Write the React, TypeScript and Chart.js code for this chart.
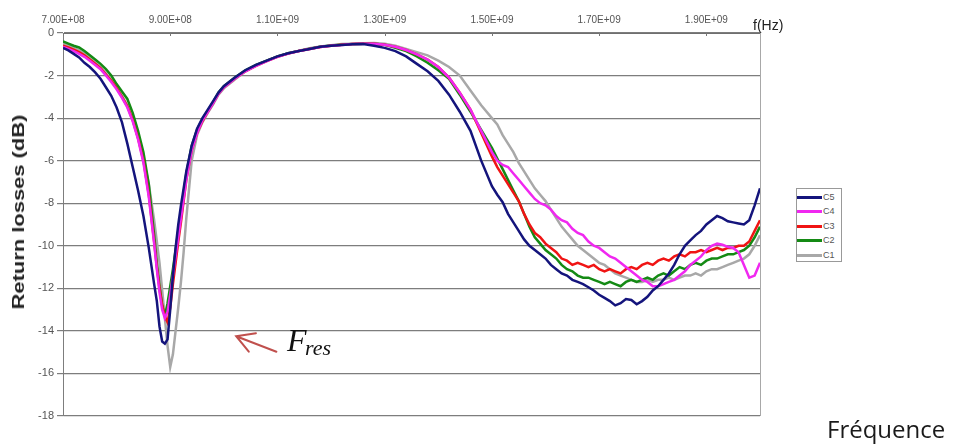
import React, { useEffect, useRef } from "react";
import { Chart, registerables } from "chart.js";

Chart.register(...registerables);

// Frequencies in MHz (shared by all series)
const FREQ_MHZ = [
  700, 710, 720, 730, 740, 750, 760, 770, 780, 790, 800, 810, 820, 830, 840, 850, 860, 870,
  875, 880, 885, 890, 895, 900, 905, 910, 915, 920, 925, 930,
  940, 950, 960, 970, 980, 990, 1000,
  1020, 1040, 1060, 1080, 1100, 1120, 1140, 1160, 1180, 1200, 1220, 1240, 1260, 1280, 1300,
  1320, 1340, 1360, 1380, 1400, 1420, 1440, 1460, 1480, 1500,
  1510, 1520, 1530, 1540, 1550, 1560, 1570, 1580, 1590, 1600,
  1610, 1620, 1630, 1640, 1650, 1660, 1670, 1680, 1690, 1700,
  1710, 1720, 1730, 1740, 1750, 1760, 1770, 1780, 1790, 1800,
  1810, 1820, 1830, 1840, 1850, 1860, 1870, 1880, 1890, 1900,
  1910, 1920, 1930, 1940, 1950, 1960, 1970, 1980, 1990, 2000,
];

const C5 = [
  -0.7, -0.82, -0.98, -1.15, -1.4, -1.6, -1.85, -2.15, -2.55, -2.95, -3.5, -4.2, -5.2, -6.3, -7.4, -8.6, -10.1, -11.8,
  -12.6, -13.8, -14.5, -14.6, -14.4, -13.0, -11.4, -10.1, -9.0, -8.1, -7.3, -6.5,
  -5.3, -4.5, -4.0, -3.6, -3.2, -2.8, -2.5,
  -2.1, -1.75, -1.5, -1.3, -1.1, -0.95, -0.85, -0.75, -0.65, -0.6, -0.56, -0.53, -0.52, -0.6, -0.7,
  -0.85, -1.1, -1.45, -1.8, -2.25, -2.9, -3.7, -4.6, -6.0, -7.2,
  -7.6, -7.95, -8.5, -8.9, -9.3, -9.7, -10.0, -10.2, -10.4, -10.6,
  -10.9, -11.1, -11.3, -11.4, -11.6, -11.7, -11.8, -11.95, -12.1, -12.3,
  -12.45, -12.6, -12.8, -12.7, -12.5, -12.55, -12.75, -12.6, -12.4, -12.1,
  -11.9, -11.6, -11.3, -10.9, -10.4, -10.0, -9.75, -9.5, -9.3, -9.0,
  -8.8, -8.6, -8.7, -8.85, -8.9, -8.95, -9.0, -8.8, -8.1, -7.3,
];

const C4 = [
  -0.65, -0.75, -0.85, -0.98, -1.12, -1.3, -1.5, -1.7, -2.0, -2.3, -2.65, -3.05, -3.5, -4.15, -5.0, -6.1, -7.7, -9.9,
  -11.1, -12.2, -13.0, -13.4, -13.1, -12.3, -11.4, -10.5, -9.6, -8.7, -7.8, -6.9,
  -5.5, -4.7, -4.1, -3.7, -3.3, -2.85, -2.55,
  -2.15, -1.8, -1.55, -1.32, -1.12, -0.97, -0.85, -0.75, -0.66, -0.6, -0.56, -0.52, -0.5, -0.5, -0.55,
  -0.65, -0.8, -1.0, -1.25, -1.6, -2.1, -2.8, -3.6, -4.6, -5.6,
  -6.0, -6.2, -6.3, -6.6, -6.9, -7.2, -7.5, -7.8, -8.0, -8.1,
  -8.3, -8.6, -8.8, -8.9, -9.2, -9.4, -9.5, -9.8, -10.0, -10.1,
  -10.3, -10.5, -10.6, -10.8, -11.0, -11.2, -11.4, -11.6, -11.7, -11.9,
  -11.9, -11.8, -11.7, -11.6, -11.4, -11.2, -10.9, -10.7, -10.5, -10.2,
  -10.0, -9.9, -9.95, -10.05, -10.1, -10.3, -10.9, -11.5, -11.4, -10.8,
];

const C3 = [
  -0.6, -0.68, -0.78, -0.9, -1.05, -1.25, -1.45, -1.65, -1.95, -2.25, -2.6, -3.0, -3.45, -4.1, -4.95, -6.0, -7.6, -9.8,
  -11.0, -12.0, -12.8, -13.3, -13.6, -12.9, -11.8, -10.8, -9.8, -8.9, -7.9, -6.9,
  -5.5, -4.7, -4.15, -3.7, -3.3, -2.85, -2.55,
  -2.15, -1.8, -1.55, -1.32, -1.12, -0.97, -0.85, -0.75, -0.66, -0.6, -0.55, -0.52, -0.5, -0.5, -0.55,
  -0.65, -0.8, -1.0, -1.25, -1.6, -2.1, -2.8, -3.6, -4.7, -5.8,
  -6.3, -6.7, -7.1, -7.5, -7.9, -8.5, -9.0, -9.4, -9.6, -9.9,
  -10.1, -10.3, -10.6, -10.7, -10.9, -10.8, -10.9, -11.0, -10.9, -11.1,
  -11.2, -11.1, -11.2, -11.3, -11.1, -11.0, -11.1, -10.9, -10.8, -10.9,
  -10.7, -10.6, -10.7, -10.5, -10.4, -10.5, -10.3, -10.3, -10.2, -10.3,
  -10.2, -10.1, -10.2, -10.1, -10.1, -10.0, -10.0, -9.8, -9.3, -8.8,
];

const C2 = [
  -0.4, -0.5, -0.6, -0.68, -0.85, -1.05, -1.25, -1.45, -1.7, -2.0, -2.4, -2.75, -3.1, -3.75, -4.6, -5.6, -7.1, -9.5,
  -10.8, -11.9, -12.8, -13.3, -12.7, -11.9, -11.1, -10.2, -9.3, -8.4, -7.5, -6.6,
  -5.3, -4.55, -4.05, -3.65, -3.25, -2.8, -2.5,
  -2.1, -1.75, -1.5, -1.3, -1.1, -0.95, -0.84, -0.74, -0.65, -0.59, -0.55, -0.52, -0.5, -0.5, -0.55,
  -0.7, -0.85, -1.1, -1.4, -1.75, -2.15, -2.9, -3.7, -4.55, -5.4,
  -5.9, -6.4, -6.9, -7.4, -7.9, -8.5, -9.1, -9.6, -9.9, -10.2,
  -10.4, -10.6, -10.9, -11.1, -11.2, -11.4, -11.5, -11.5, -11.6, -11.7,
  -11.8, -11.7, -11.8, -11.9, -11.7, -11.6, -11.7, -11.6, -11.5, -11.6,
  -11.4, -11.3, -11.4, -11.2, -11.0, -11.1, -10.9, -10.8, -10.9, -10.7,
  -10.6, -10.6, -10.5, -10.4, -10.4, -10.3, -10.2, -10.0, -9.6, -9.1,
];

const C1 = [
  -0.5, -0.6, -0.7, -0.82, -0.98, -1.18, -1.38, -1.6, -1.9, -2.2, -2.55, -2.95, -3.4, -4.05, -4.9, -5.9, -7.1, -8.8,
  -9.8, -10.8, -12.1, -13.4, -14.7, -15.7, -15.1, -14.0, -12.9, -11.7, -10.3, -8.7,
  -6.0, -4.8, -4.2, -3.75, -3.35, -2.9, -2.6,
  -2.2, -1.8, -1.52, -1.3, -1.1, -0.95, -0.83, -0.72, -0.63, -0.57, -0.52, -0.5, -0.48, -0.47, -0.5,
  -0.6, -0.75, -0.9, -1.05, -1.3, -1.6, -2.0, -2.7, -3.4, -4.0,
  -4.3, -4.8, -5.2, -5.6, -6.1, -6.5, -6.9, -7.3, -7.6, -7.9,
  -8.3, -8.7, -9.1, -9.4, -9.7, -10.0, -10.2, -10.4, -10.6, -10.8,
  -10.9, -11.1, -11.3, -11.4, -11.5, -11.6, -11.7, -11.7, -11.6, -11.7,
  -11.6, -11.6, -11.5, -11.6, -11.5, -11.4, -11.4, -11.3, -11.4, -11.2,
  -11.1, -11.1, -11.0, -10.9, -10.8, -10.7, -10.6, -10.4, -10.0, -9.5,
];

const SERIES_LABELS = ["C5", "C4", "C3", "C2", "C1"];
const SERIES_VALUES = [C5, C4, C3, C2, C1];
const SERIES_COLORS = ["#14147c", "#f028f0", "#f01414", "#148a14", "#a8a8a8"];

const X_TICKS = [7e8, 9e8, 1.1e9, 1.3e9, 1.5e9, 1.7e9, 1.9e9];
const Y_TICKS = [0, -2, -4, -6, -8, -10, -12, -14, -16, -18];

// annotation arrow (data coordinates)
const ARROW_TIP = { f: 1023e6, db: -14.25 };
const ARROW_TAIL = { f: 1098e6, db: -14.98 };

const fmtSci = (v: number) =>
  v.toExponential(2).toUpperCase().replace(/E([+-])(\d)$/, "E$10$2");

const decorPlugin = {
  id: "decor",
  afterDraw(chart: any) {
    const { ctx, chartArea: a, scales } = chart;
    ctx.save();
    // right border of plot area
    ctx.strokeStyle = "#a8a8a8";
    ctx.lineWidth = 1;
    ctx.beginPath();
    ctx.moveTo(a.right + 0.5, a.top);
    ctx.lineTo(a.right + 0.5, a.bottom);
    ctx.stroke();
    // small inward ticks on the top axis
    ctx.strokeStyle = "#777";
    ctx.beginPath();
    X_TICKS.forEach((v) => {
      const px = Math.round(scales.x.getPixelForValue(v)) + 0.5;
      ctx.moveTo(px, a.top);
      ctx.lineTo(px, a.top + 3);
    });
    ctx.stroke();
    // arrow annotation
    const tx = scales.x.getPixelForValue(ARROW_TIP.f);
    const ty = scales.y.getPixelForValue(ARROW_TIP.db);
    const sx = scales.x.getPixelForValue(ARROW_TAIL.f);
    const sy = scales.y.getPixelForValue(ARROW_TAIL.db);
    const ang = Math.atan2(sy - ty, sx - tx);
    const len = 20;
    ctx.strokeStyle = "#c0504d";
    ctx.lineWidth = 2;
    ctx.lineCap = "round";
    ctx.beginPath();
    ctx.moveTo(sx, sy);
    ctx.lineTo(tx, ty);
    ctx.moveTo(tx + len * Math.cos(ang - 0.52), ty + len * Math.sin(ang - 0.52));
    ctx.lineTo(tx, ty);
    ctx.lineTo(tx + len * Math.cos(ang + 0.52), ty + len * Math.sin(ang + 0.52));
    ctx.stroke();
    ctx.restore();
  },
};

export default function App() {
  const canvasRef = useRef<HTMLCanvasElement | null>(null);

  useEffect(() => {
    document.body.style.margin = "0";
    const canvas = canvasRef.current;
    if (!canvas) return;
    const datasets = SERIES_LABELS.map((label, i) => ({
      label,
      data: FREQ_MHZ.map((f, j) => ({ x: f * 1e6, y: SERIES_VALUES[i][j] })),
      borderColor: SERIES_COLORS[i],
      backgroundColor: SERIES_COLORS[i],
      borderWidth: 2.5,
      pointRadius: 0,
      tension: 0,
      fill: false,
    }));
    const chart = new Chart(canvas, {
      type: "line",
      data: { datasets },
      plugins: [decorPlugin],
      options: {
        responsive: false,
        animation: false,
        layout: { padding: { left: 0, top: 0, right: 193, bottom: 29 } },
        plugins: { legend: { display: false }, tooltip: { enabled: false } },
        scales: {
          x: {
            type: "linear",
            position: "top",
            min: 7e8,
            max: 2e9,
            afterBuildTicks: (s: any) => {
              s.ticks = X_TICKS.map((v) => ({ value: v }));
            },
            afterFit: (s: any) => {
              s.height = 33;
            },
            grid: { display: false, drawTicks: false },
            border: { display: true, color: "#6f6f6f", width: 1 },
            ticks: {
              padding: 7,
              autoSkip: false,
              maxRotation: 0,
              color: "#555",
              font: { family: "'Liberation Sans', Arial, sans-serif", size: 10 },
              callback: (v: any) => fmtSci(Number(v)),
            },
          },
          y: {
            type: "linear",
            min: -18,
            max: 0,
            afterBuildTicks: (s: any) => {
              s.ticks = Y_TICKS.map((v) => ({ value: v }));
            },
            afterFit: (s: any) => {
              s.width = 63;
            },
            grid: { color: "#7d7d7d", lineWidth: 1.2, tickLength: 6, drawTicks: true },
            border: { display: true, color: "#7d7d7d", width: 1 },
            ticks: {
              padding: 3,
              color: "#555",
              font: { family: "'Liberation Sans', Arial, sans-serif", size: 11 },
              callback: (v: any) => String(v),
            },
          },
        },
      },
    } as any);
    return () => chart.destroy();
  }, []);

  const abs = (extra: React.CSSProperties): React.CSSProperties => ({
    position: "absolute",
    whiteSpace: "nowrap",
    lineHeight: 1,
    ...extra,
  });

  return (
    <div style={{ position: "relative", width: 953, height: 445, background: "#fff", overflow: "hidden" }}>
      <canvas ref={canvasRef} width={953} height={445} style={{ display: "block" }} />
      {/* y-axis title */}
      <div
        style={abs({
          left: 18.5,
          top: 212,
          fontFamily: "'Liberation Sans', Arial, sans-serif",
          fontWeight: "bold",
          fontSize: 16,
          color: "#222",
          transform: "translate(-50%, -50%) rotate(-90deg) scaleX(1.37)",
        })}
      >
        Return losses (dB)
      </div>
      {/* axis unit */}
      <div
        style={abs({
          left: 753,
          top: 18,
          fontFamily: "'Liberation Sans', Arial, sans-serif",
          fontSize: 14,
          color: "#222",
        })}
      >
        f(Hz)
      </div>
      {/* legend */}
      <div
        style={{
          position: "absolute",
          left: 796,
          top: 188,
          width: 44,
          height: 72,
          border: "1px solid #999",
          background: "#fff",
        }}
      >
        {SERIES_LABELS.map((lab, i) => (
          <div
            key={lab}
            style={{
              position: "absolute",
              left: 0,
              top: 2 + i * 14.5,
              height: 12,
              display: "flex",
              alignItems: "center",
            }}
          >
            <div style={{ width: 25, height: 3, background: SERIES_COLORS[i] }} />
            <span
              style={{
                fontFamily: "'Liberation Sans', Arial, sans-serif",
                fontSize: 9,
                color: "#555",
                marginLeft: 1,
                lineHeight: 1,
              }}
            >
              {lab}
            </span>
          </div>
        ))}
      </div>
      {/* resonance annotation */}
      <div
        style={abs({
          left: 287,
          top: 324,
          fontFamily: "'Liberation Serif', 'Times New Roman', serif",
          fontStyle: "italic",
          fontSize: 32,
          color: "#111",
        })}
      >
        F
      </div>
      <div
        style={abs({
          left: 305,
          top: 337,
          fontFamily: "'Liberation Serif', 'Times New Roman', serif",
          fontStyle: "italic",
          fontSize: 22,
          color: "#111",
        })}
      >
        res
      </div>
      {/* bottom-right caption */}
      <div
        style={abs({
          left: 827,
          top: 417,
          fontFamily: "'Open Sans', sans-serif",
          fontSize: 24,
          color: "#1a1a1a",
        })}
      >
        Fréquence
      </div>
    </div>
  );
}
